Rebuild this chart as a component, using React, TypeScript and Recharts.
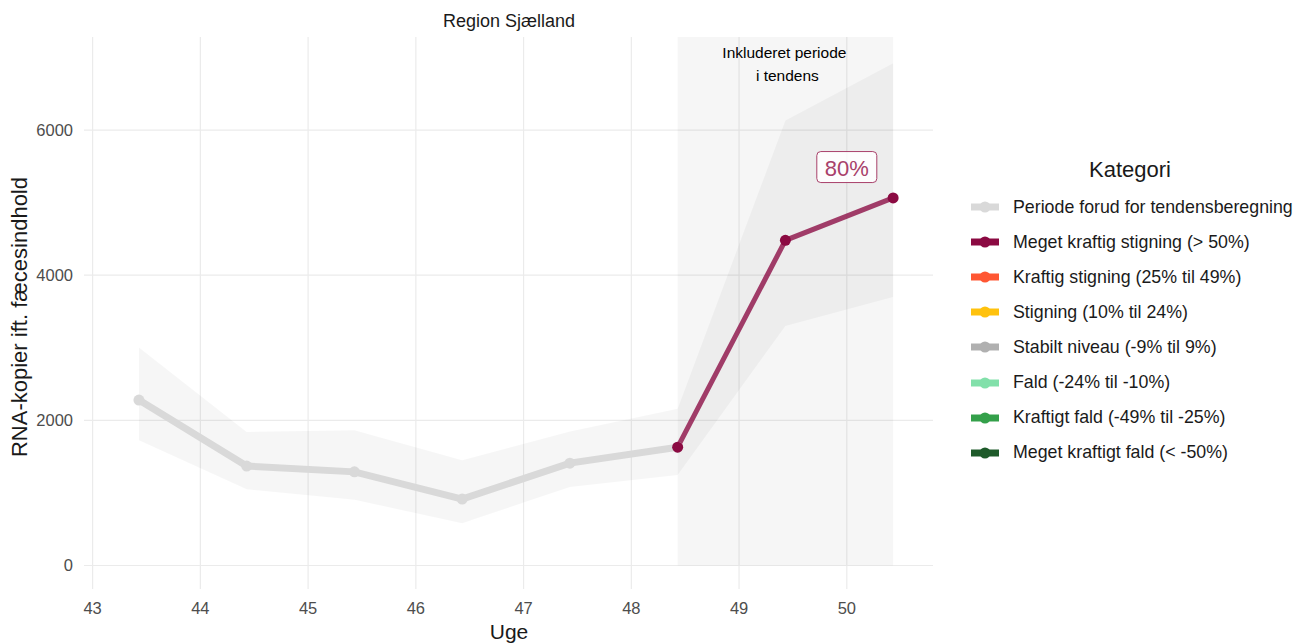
import React from "react";
import {
  ComposedChart,
  Area,
  Line,
  XAxis,
  YAxis,
  CartesianGrid,
  ReferenceArea,
  ReferenceDot,
} from "recharts";

// weeks (plotted mid-week) and RNA values
const weeks = [43.43, 44.43, 45.43, 46.43, 47.43, 48.43, 49.43, 50.43];
const values = [2280, 1370, 1290, 915, 1410, 1630, 4480, 5065];
const lower = [1725, 1050, 905, 583, 1080, 1248, 3300, 3700];
const upper = [3005, 1840, 1863, 1450, 1845, 2160, 6130, 6920];
const trendStart = 5;

const xTicks = [43, 44, 45, 46, 47, 48, 49, 50];
const yTicks = [0, 2000, 4000, 6000];

const trendLabel = "80%";
const trendLabelPos = { x: 50, y: 5490 };

const legendTitle = "Kategori";
const categories = [
  "Periode forud for tendensberegning",
  "Meget kraftig stigning (> 50%)",
  "Kraftig stigning (25% til 49%)",
  "Stigning (10% til 24%)",
  "Stabilt niveau (-9% til 9%)",
  "Fald (-24% til -10%)",
  "Kraftigt fald (-49% til -25%)",
  "Meget kraftigt fald (< -50%)",
];
const categoryColors = [
  "#d9d9d9",
  "#8b0a42",
  "#ff5733",
  "#ffc20e",
  "#b0b0b0",
  "#82e0aa",
  "#34a04a",
  "#1e5a2a",
];

const FONT = "'Liberation Sans', Arial, sans-serif";
const TREND = "#8b0a42";
const GREY = "#d9d9d9";

const rows = weeks.map((w, i) => ({
  week: w,
  pre: i <= trendStart ? values[i] : null,
  trend: i >= trendStart ? values[i] : null,
  preBand: i <= trendStart ? [lower[i], upper[i]] : null,
  trendBand: i >= trendStart ? [lower[i], upper[i]] : null,
}));

const areaLabel = (props: any) => {
  const vb = props.viewBox || {};
  const cx = vb.x + vb.width / 2;
  return (
    <g>
      <text x={cx - 1} y={vb.y + 21} textAnchor="middle" fontSize={15.5} fill="#000" fontFamily={FONT}>
        Inkluderet periode
      </text>
      <text x={cx + 2} y={vb.y + 44} textAnchor="middle" fontSize={15.5} fill="#000" fontFamily={FONT}>
        i tendens
      </text>
    </g>
  );
};

const pctLabel = (p: any) => (
  <g>
    <rect
      x={p.cx - 30}
      y={p.cy - 15.5}
      width={60}
      height={31}
      rx={4}
      fill="#fff"
      fillOpacity={0.85}
      stroke="#a8416a"
      strokeWidth={1}
    />
    <text
      x={p.cx}
      y={p.cy + 1}
      textAnchor="middle"
      dominantBaseline="central"
      fontSize={22}
      fill="#a8416a"
      fontFamily={FONT}
    >
      {trendLabel}
    </text>
  </g>
);

export default function App() {
  return (
    <div
      style={{
        position: "absolute",
        left: 0,
        top: 0,
        width: 1296,
        height: 644,
        background: "#fff",
        fontFamily: FONT,
      }}
    >
      <ComposedChart
        width={1296}
        height={644}
        data={rows}
        margin={{ top: 37, right: 363, left: 24, bottom: 25 }}
      >
        <CartesianGrid
          stroke="#ebebeb"
          strokeWidth={1.2}
          horizontalValues={yTicks}
          verticalValues={xTicks}
        />
        <XAxis
          dataKey="week"
          type="number"
          domain={[42.92, 50.8]}
          ticks={xTicks}
          allowDataOverflow
          axisLine={false}
          tickLine={false}
          tickSize={0}
          tickMargin={13}
          height={30}
          tick={{ fill: "#4d4d4d", fontSize: 16.5, fontFamily: FONT }}
        />
        <YAxis
          type="number"
          domain={[-324, 7282]}
          ticks={yTicks}
          allowDataOverflow
          axisLine={false}
          tickLine={false}
          tickSize={0}
          tickMargin={11}
          width={60}
          tick={{ fill: "#4d4d4d", fontSize: 16.5, fontFamily: FONT }}
        />
        <ReferenceArea
          x1={weeks[trendStart]}
          x2={weeks[weeks.length - 1]}
          y1={0}
          y2={7282}
          fill="#000"
          fillOpacity={0.035}
          stroke="none"
          label={areaLabel}
        />
        <Area
          dataKey="preBand"
          type="linear"
          fill="#000"
          fillOpacity={0.035}
          stroke="none"
          dot={false}
          activeDot={false}
          isAnimationActive={false}
        />
        <Area
          dataKey="trendBand"
          type="linear"
          fill="#000"
          fillOpacity={0.035}
          stroke="none"
          dot={false}
          activeDot={false}
          isAnimationActive={false}
        />
        <Line
          dataKey="pre"
          type="linear"
          stroke={GREY}
          strokeWidth={7}
          strokeLinecap="round"
          dot={{ r: 5.5, fill: GREY, stroke: "none" }}
          activeDot={false}
          isAnimationActive={false}
        />
        <Line
          dataKey="trend"
          type="linear"
          stroke="none"
          dot={{ r: 5.5, fill: TREND, stroke: "none" }}
          activeDot={false}
          isAnimationActive={false}
        />
        <Line
          dataKey="trend"
          type="linear"
          stroke={TREND}
          strokeOpacity={0.78}
          strokeWidth={5}
          strokeLinecap="round"
          dot={false}
          activeDot={false}
          isAnimationActive={false}
        />
        <ReferenceDot
          x={trendLabelPos.x}
          y={trendLabelPos.y}
          r={0}
          shape={pctLabel}
        />
      </ComposedChart>

      <div
        style={{
          position: "absolute",
          left: 409,
          width: 200,
          top: 11,
          lineHeight: "20px",
          textAlign: "center",
          fontSize: 18,
          color: "#1a1a1a",
        }}
      >
        Region Sjælland
      </div>
      <div
        style={{
          position: "absolute",
          left: 409,
          width: 200,
          top: 620,
          textAlign: "center",
          fontSize: 21,
          color: "#1a1a1a",
          lineHeight: "24px",
        }}
      >
        Uge
      </div>
      <div
        style={{
          position: "absolute",
          left: 20 - 200,
          top: 317 - 12,
          width: 400,
          height: 24,
          lineHeight: "24px",
          textAlign: "center",
          fontSize: 22,
          color: "#1a1a1a",
          transform: "rotate(-90deg)",
        }}
      >
        RNA-kopier ift. fæcesindhold
      </div>

      <div
        style={{
          position: "absolute",
          left: 1030,
          width: 200,
          top: 158,
          lineHeight: "24px",
          textAlign: "center",
          fontSize: 22,
          color: "#1a1a1a",
        }}
      >
        {legendTitle}
      </div>
      {categories.map((c, i) => (
        <div
          key={c}
          style={{
            position: "absolute",
            left: 970,
            top: 207 + i * 35.1 - 12,
            height: 24,
            display: "flex",
            alignItems: "center",
            whiteSpace: "nowrap",
          }}
        >
          <svg width={30} height={14} style={{ marginRight: 13 }}>
            <line x1={1} y1={7} x2={29} y2={7} stroke={categoryColors[i]} strokeWidth={7} />
            <circle cx={15} cy={7} r={5.5} fill={categoryColors[i]} />
          </svg>
          <span style={{ fontSize: 17.8, color: "#1a1a1a" }}>{c}</span>
        </div>
      ))}
    </div>
  );
}
